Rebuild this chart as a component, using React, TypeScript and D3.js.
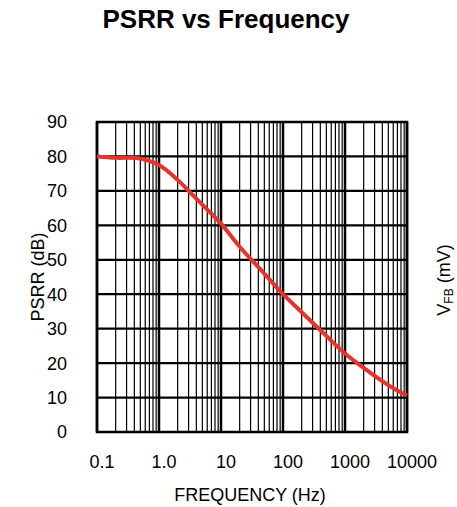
import React from "react";
import * as d3 from "d3";

const freqs = [0.1, 0.2, 0.5, 1, 2, 3, 5, 10, 20, 50, 100, 200, 500, 1000, 2000, 5000, 10000];
const psrr = [80, 79.6, 79.4, 77.5, 73.2, 70, 66, 60.5, 53.8, 46, 40, 34.8, 27.9, 22.8, 18.6, 13.6, 10.5];
const xTickValues = [0.1, 1, 10, 100, 1000, 10000];
const xTickLabels = ["0.1", "1.0", "10", "100", "1000", "10000"];
const yTickValues = [0, 10, 20, 30, 40, 50, 60, 70, 80, 90];

const W = 457;
const H = 507;
const left = 97;
const right = 407;
const top = 122;
const bottom = 432;

export default function App() {
  const x = d3.scaleLog().domain([0.1, 10000]).range([left, right]);
  const y = d3.scaleLinear().domain([0, 90]).range([bottom, top]);

  const minor: number[] = [];
  for (let dec = 0.1; dec < 10000; dec *= 10) {
    for (let m = 2; m <= 9; m++) minor.push(dec * m);
  }

  const line = d3
    .line<number>()
    .x((_, i) => x(freqs[i]))
    .y((d) => y(d))
    .curve(d3.curveCatmullRom.alpha(0.5));

  const font = "'Liberation Sans', Arial, sans-serif";

  return (
    <svg
      width={W}
      height={H}
      style={{ position: "absolute", left: 0, top: 0, background: "#fff" }}
      fontFamily={font}
    >
      <rect x={0} y={0} width={W} height={H} fill="#fff" />
      <text x={226} y={28} textAnchor="middle" fontSize={26} fontWeight="bold" fill="#000">
        PSRR vs Frequency
      </text>

      {minor.map((f, i) => (
        <line key={"m" + i} x1={x(f)} x2={x(f)} y1={top} y2={bottom} stroke="#000" strokeWidth={1.2} />
      ))}
      {xTickValues.map((f, i) => (
        <line key={"M" + i} x1={x(f)} x2={x(f)} y1={top} y2={bottom} stroke="#000" strokeWidth={2.5} />
      ))}
      {yTickValues.map((v) => (
        <line key={"h" + v} x1={left} x2={right} y1={y(v)} y2={y(v)} stroke="#000" strokeWidth={2.2} />
      ))}
      <rect x={left} y={top} width={right - left} height={bottom - top} fill="none" stroke="#000" strokeWidth={2.5} />

      <path d={line(psrr) || ""} fill="none" stroke="#e8322c" strokeWidth={4} strokeLinejoin="round" strokeLinecap="butt" />

      {yTickValues.map((v) => (
        <text key={"yl" + v} x={67} y={y(v)} dy="0.36em" textAnchor="end" fontSize={18} fill="#000">
          {v}
        </text>
      ))}
      {xTickValues.map((f, i) => (
        <text key={"xl" + i} x={x(f) + 5} y={468} textAnchor="middle" fontSize={18} fill="#000">
          {xTickLabels[i]}
        </text>
      ))}

      <text x={250} y={501} textAnchor="middle" fontSize={18} fill="#000">
        FREQUENCY (Hz)
      </text>
      <text transform="translate(44,277) rotate(-90)" textAnchor="middle" fontSize={18} fill="#000">
        PSRR (dB)
      </text>
      <text transform="translate(450,280) rotate(-90)" textAnchor="middle" fontSize={18} fill="#000">
        V<tspan fontSize={12} dy={3}>FB</tspan>
        <tspan dy={-3}> (mV)</tspan>
      </text>
    </svg>
  );
}
